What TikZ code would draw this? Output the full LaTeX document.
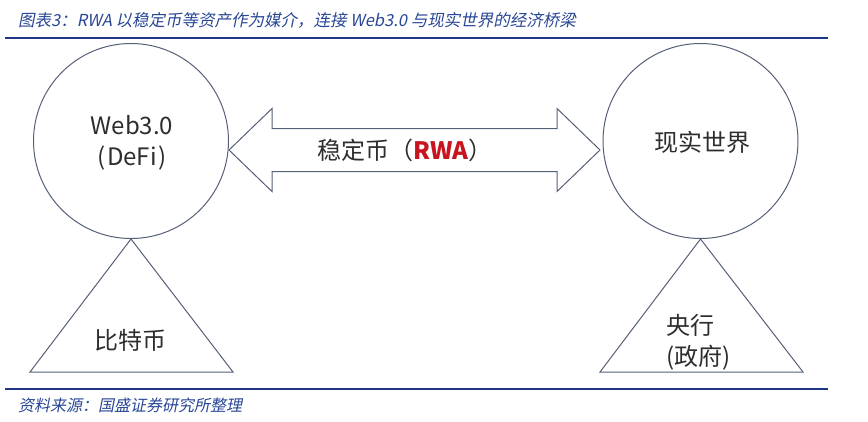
\documentclass[tikz,border=0pt]{standalone}
\usepackage{fontspec}
\setmainfont{Noto Sans CJK SC}
\newfontfamily\cjk{Noto Sans CJK SC}
\newfontfamily\cjkit{Noto Sans CJK SC}[FakeSlant=0.2]
\usetikzlibrary{calc}
\definecolor{ttlblue}{RGB}{40,70,150}
\definecolor{rulblue}{RGB}{30,55,135}
\definecolor{shapeline}{RGB}{85,95,120}
\definecolor{txtgray}{RGB}{45,45,45}
\definecolor{rwared}{RGB}{200,20,30}
\begin{document}
\begin{tikzpicture}[x=1pt,y=-1pt,
  shapeln/.style={draw=shapeline, line width=1pt, line join=miter},
  lbl/.style={font=\cjk\fontsize{24}{31}\selectfont, text=txtgray, inner sep=0, align=center},
  ruleln/.style={draw=rulblue, line width=1.3pt},
  capt/.style={font=\cjkit\fontsize{16.5}{20}\selectfont, text=ttlblue, inner sep=0, anchor=west},
  world/.style={circle, shapeln, minimum size=195pt, inner sep=0}
]
\useasboundingbox (0,0) rectangle (868,421);

% title and rules
\node[capt] (title) at (18,20) {图表3：RWA 以稳定币等资产作为媒介，连接 Web3.0 与现实世界的经济桥梁};
\coordinate (r1a) at (5,38);
\coordinate (r1b) at (828,38);
\draw[ruleln] (r1a) -- (r1b);
\coordinate (r2a) at (5,389);
\coordinate (r2b) at (828,389);
\draw[ruleln] (r2a) -- (r2b);
\node[capt, font=\cjkit\fontsize{16}{20}\selectfont] (source) at (18,405) {资料来源：国盛证券研究所整理};

% circles
\node[world] (web) at (131,141) {};
\node[world] (real) at (700.5,141) {};
\node[lbl] (webtxt) at (132,142.5) {Web3.0\\(\kern2pt DeFi\kern2pt)};
\node[lbl] (realtxt) at (702,142) {现实世界};

% triangles
\coordinate (tlL) at (30,372);
\coordinate (tlR) at (233,372);
\draw[shapeln] (web.south) -- (tlR) -- (tlL) -- cycle;
\coordinate (trL) at (600,372);
\coordinate (trR) at (803,372);
\draw[shapeln] (real.south) -- (trR) -- (trL) -- cycle;
\node[lbl] (btc) at (130,340) {比特币};
\node[lbl, align=left, anchor=west] (cb) at (666,342) {央行\\(政府)};

% double arrow
\coordinate (tipL) at (229,150);
\coordinate (tipR) at (600,150);
\draw[shapeln]
  (tipL) -- ($(tipL)+(43,-41.5)$) -- ($(tipL)+(43,-21.5)$)
  -- ($(tipR)+(-43,-21.5)$) -- ($(tipR)+(-43,-41.5)$) -- (tipR)
  -- ($(tipR)+(-43,41.5)$) -- ($(tipR)+(-43,21.5)$)
  -- ($(tipL)+(43,21.5)$) -- ($(tipL)+(43,41.5)$) -- cycle;
\node[lbl] (stable) at (405,150) {稳定币（\textcolor{rwared}{\bfseries RWA}）};
\end{tikzpicture}
\end{document}
